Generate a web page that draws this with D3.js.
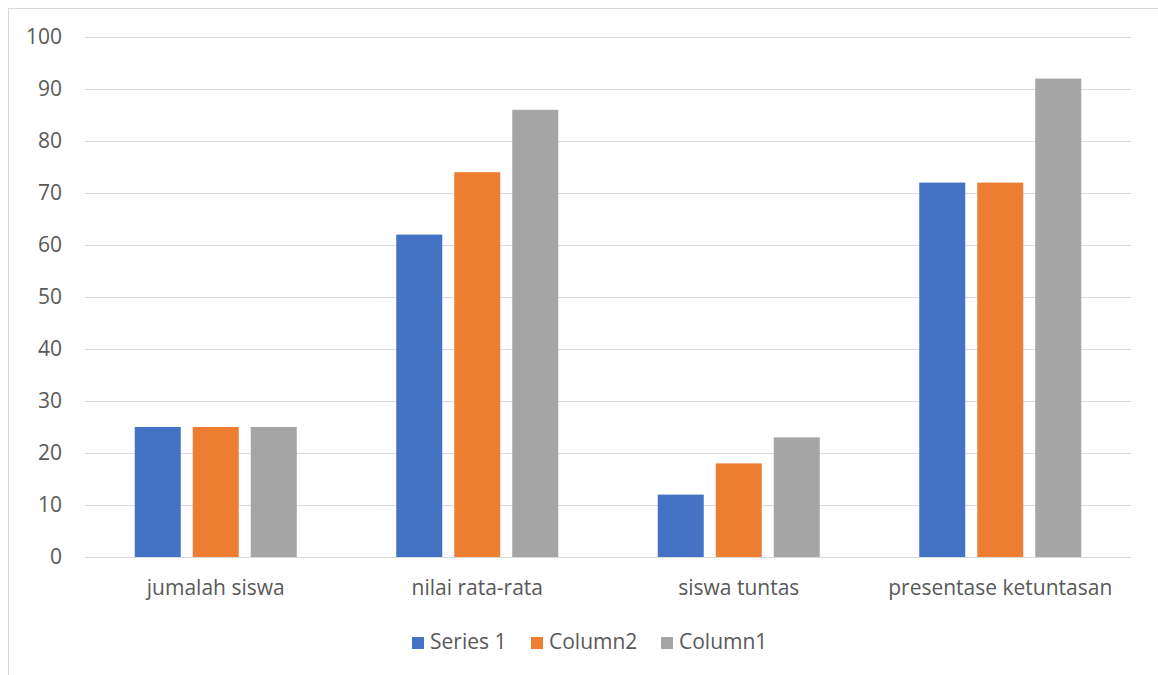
<!DOCTYPE html>
<html>
<head>
<meta charset="utf-8">
<script src="https://cdn.jsdelivr.net/npm/d3@7"></script>
<style>
  html, body { margin: 0; padding: 0; background: #fff; }
  svg { display: block; }
  text { font-family: "Open Sans", "Noto Sans", sans-serif; fill: #595959; }
</style>
</head>
<body>
<svg id="chart" width="1158" height="675"></svg>
<script>
// Data
const categories = ["jumalah siswa", "nilai rata-rata", "siswa tuntas", "presentase ketuntasan"];
const seriesNames = ["Series 1", "Column2", "Column1"];
const series1 = [25, 62, 12, 72];
const column2 = [25, 74, 18, 72];
const column1 = [25, 86, 23, 92];
const yTicks = [0, 10, 20, 30, 40, 50, 60, 70, 80, 90, 100];
const colors = ["#4472C4", "#ED7D31", "#A5A5A5"];

const seriesValues = [series1, column2, column1];
const FONT = "'Open Sans', 'Noto Sans', sans-serif";
const FS = "21px";

const svg = d3.select("#chart");

// Chart frame
svg.append("rect")
  .attr("x", 8.5).attr("y", 8.5)
  .attr("width", 1200).attr("height", 700)
  .attr("fill", "#fff").attr("stroke", "#d9d9d9").attr("stroke-width", 1);

const plot = { left: 85, right: 1131, top: 37, bottom: 557 };

const x0 = d3.scaleBand()
  .domain(categories)
  .range([plot.left, plot.right])
  .paddingInner(0).paddingOuter(0);

const y = d3.scaleLinear().domain([0, 100]).range([plot.bottom, plot.top]);

// Bars: width 46 with 12px spacing between series inside a group
const barW = 46, barGap = 12;
const groupW = barW * 3 + barGap * 2;

// Gridlines and value axis labels
const yAxis = d3.axisLeft(y).tickValues(yTicks).tickSize(-(plot.right - plot.left)).tickPadding(23);
const gy = svg.append("g")
  .attr("transform", `translate(${plot.left},0)`)
  .call(yAxis);
gy.select(".domain").remove();
gy.selectAll(".tick line").attr("stroke", "#d9d9d9").attr("stroke-width", 1);
gy.selectAll(".tick text")
  .attr("fill", "#595959")
  .style("font-size", FS)
  .style("font-family", FONT);

// Bars
const groups = svg.append("g").selectAll("g")
  .data(categories)
  .join("g")
  .attr("transform", c => `translate(${x0(c) + (x0.bandwidth() - groupW) / 2},0)`);

groups.selectAll("rect")
  .data((c, i) => seriesNames.map((s, k) => ({ s, k, v: seriesValues[k][i] })))
  .join("rect")
  .attr("x", d => d.k * (barW + barGap))
  .attr("width", barW)
  .attr("y", d => y(d.v))
  .attr("height", d => y(0) - y(d.v))
  .attr("fill", d => colors[d.k]);

// Category labels
svg.append("g").selectAll("text")
  .data(categories)
  .join("text")
  .attr("x", c => x0(c) + x0.bandwidth() / 2)
  .attr("y", 595)
  .attr("text-anchor", "middle")
  .style("font-size", FS)
  .text(c => c);

// Legend
const legendItems = [
  { name: seriesNames[0], x: 412 },
  { name: seriesNames[1], x: 531 },
  { name: seriesNames[2], x: 661 }
];
const lg = svg.append("g").selectAll("g")
  .data(legendItems)
  .join("g")
  .attr("transform", d => `translate(${d.x},0)`);
lg.append("rect")
  .attr("x", 0).attr("y", 637)
  .attr("width", 12).attr("height", 12)
  .attr("fill", (d, i) => colors[i]);
lg.append("text")
  .attr("x", 18).attr("y", 649)
  .style("font-size", FS)
  .text(d => d.name);
</script>
</body>
</html>
